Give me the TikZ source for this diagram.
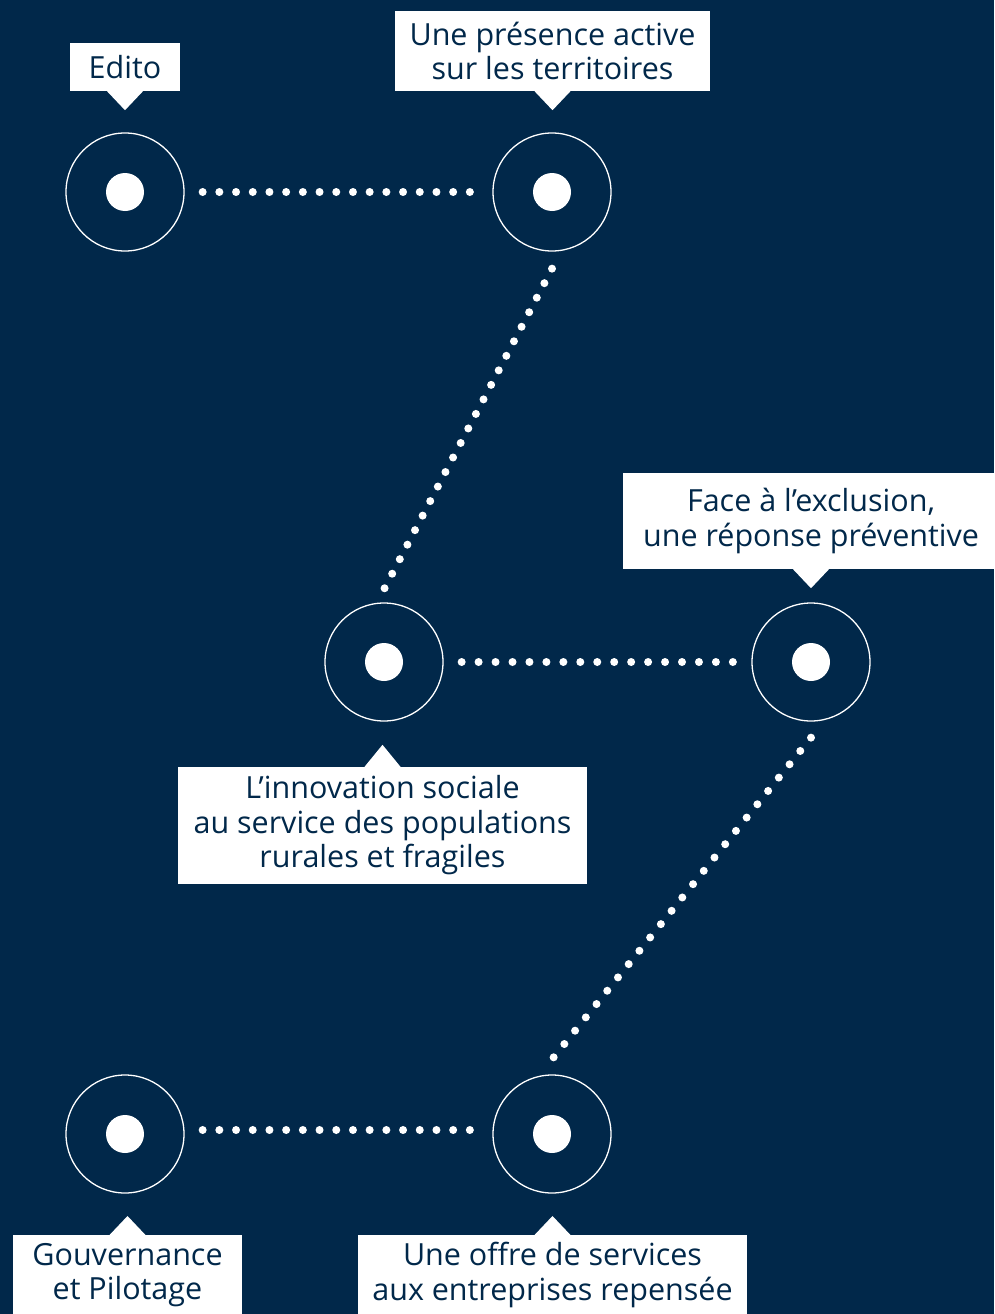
\documentclass[tikz,border=0pt]{standalone}
\usepackage{fontspec}
\setmainfont{Open Sans}
\definecolor{navy}{HTML}{01284A}
\tikzset{
 ring/.style={circle, draw=white, line width=1.3pt, minimum size=118pt, inner sep=0pt},
 dotc/.style={circle, fill=white, minimum size=38pt, inner sep=0pt},
 dotline/.style={white, line width=8pt, line cap=round, dash pattern=on 0pt off #1},
 dotline/.default=17pt,
 box/.style={fill=white, inner sep=0pt},
 lbl/.style={text=navy, align=center, inner sep=0pt, font=\fontsize{30.5}{34.5}\selectfont},
}
\begin{document}
\begin{tikzpicture}[x=1pt,y=-1pt]
\useasboundingbox (0,0) rectangle (994,1314);
\clip (0,0) rectangle (994,1314);
\fill[navy] (0,0) rectangle (994,1314);

% rings
\node[ring] (r1) at (125,192) {};
\node[ring] (r2) at (552,192) {};
\node[ring] (r3) at (384,662) {};
\node[ring] (r4) at (811,662) {};
\node[ring] (r5) at (125,1134) {};
\node[ring] (r6) at (552,1134) {};
\foreach \i in {1,...,6} \node[dotc] (d\i) at (r\i) {};

% dotted connectors
\draw[dotline=16.7pt] ([xshift=18pt]r1.east) -- ([xshift=-21pt]r2.west);
\draw[dotline=16.4pt] ([yshift=-17pt]r2.south) -- ([yshift=13pt]r3.north);
\draw[dotline=16.95pt] ([xshift=18pt]r3.east) -- ([xshift=-18pt]r4.west);
\draw[dotline=17.1pt] ([yshift=-16pt]r4.south) -- ([yshift=15pt]r6.north);
\draw[dotline=16.7pt] ([xshift=18pt,yshift=4pt]r5.east) -- ([xshift=-21pt,yshift=4pt]r6.west);

% callouts
\node[box, minimum width=110pt, minimum height=48pt] (b1) at (125,67) {};
\fill[white] ([xshift=-18pt]b1.south) -- ([yshift=-19pt]b1.south) -- ([xshift=18pt]b1.south) -- cycle;
\node[lbl] (t1) at (b1) {Edito};

\node[box, minimum width=315pt, minimum height=80pt] (b2) at (552.5,51) {};
\fill[white] ([xshift=-18pt]b2.south) -- ([yshift=-19pt]b2.south) -- ([xshift=18pt]b2.south) -- cycle;
\node[lbl] (t2) at (b2) {Une présence active\\sur les territoires};

\node[box, minimum width=376pt, minimum height=96pt] (b4) at (811,521) {};
\fill[white] ([xshift=-18pt]b4.south) -- ([yshift=-19pt]b4.south) -- ([xshift=18pt]b4.south) -- cycle;
\node[lbl] (t4) at (b4) {Face à l’exclusion,\\une réponse préventive};

\node[box, minimum width=409pt, minimum height=117pt] (b3) at (382.5,825.5) {};
\fill[white] ([xshift=-18pt]b3.north) -- ([yshift=22pt]b3.north) -- ([xshift=18pt]b3.north) -- cycle;
\node[lbl] (t3) at (b3) {L’innovation sociale\\au service des populations\\rurales et fragiles};

\node[box, minimum width=229pt, minimum height=100pt, anchor=north] (b5) at (127.5,1235) {};
\fill[white] ([xshift=-18pt]b5.north) -- ([yshift=19pt]b5.north) -- ([xshift=18pt]b5.north) -- cycle;
\node[lbl] (t5) at (127.5,1275) {Gouvernance\\et Pilotage};

\node[box, minimum width=389pt, minimum height=100pt, anchor=north] (b6) at (552.5,1235) {};
\fill[white] ([xshift=-18pt]b6.north) -- ([yshift=19pt]b6.north) -- ([xshift=18pt]b6.north) -- cycle;
\node[lbl] (t6) at (552.5,1275) {Une offre de services\\aux entreprises repensée};
\end{tikzpicture}
\end{document}
